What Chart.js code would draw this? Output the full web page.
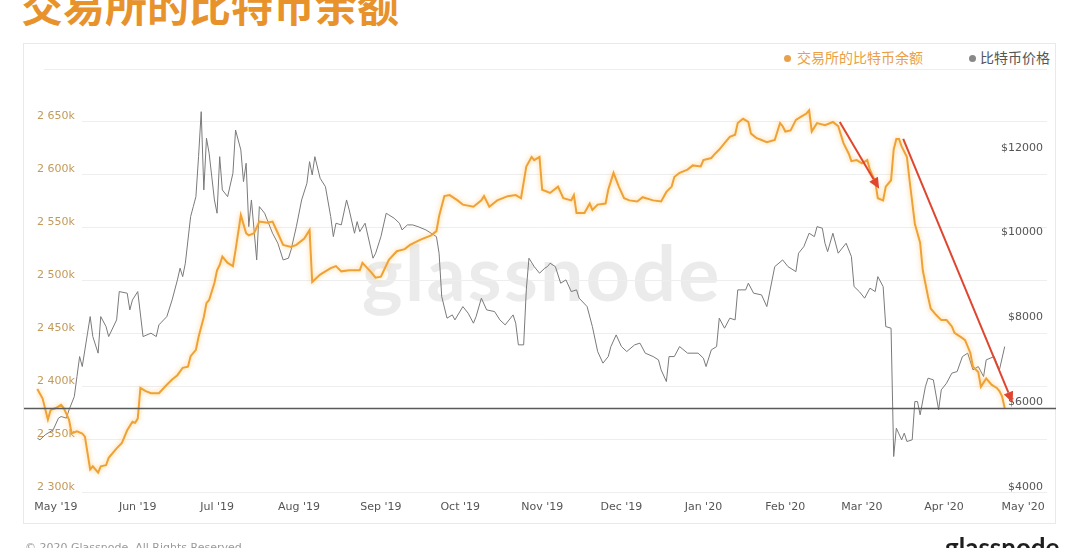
<!DOCTYPE html>
<html>
<head>
<meta charset="utf-8">
<script src="https://cdn.jsdelivr.net/npm/chart.js@4.4.0/dist/chart.umd.min.js"></script>
<style>
html,body{margin:0;padding:0;background:#fff;width:1080px;height:548px;overflow:hidden;position:relative;font-family:"DejaVu Sans",sans-serif}
#title{position:absolute;left:21px;top:-21px;font-weight:700;font-size:42px;font-family:"Noto Sans CJK SC",sans-serif;color:#e8922c;white-space:nowrap;line-height:50px}
#panel{position:absolute;left:23px;top:43px;width:1033px;height:481px;border:1px solid #e9e9e9;box-sizing:border-box}
#wm{position:absolute;left:362px;top:221px;font-family:Lato,sans-serif;font-weight:700;font-size:77px;letter-spacing:2.3px;color:#ebebeb;line-height:100px;white-space:nowrap}
#legend{position:absolute;top:47px;left:784px;font-family:"Noto Sans CJK SC",sans-serif;font-size:14px;line-height:20px;white-space:nowrap}
#legend span.item{display:inline-block;margin-right:46px}
#legend span.item:last-child{margin-right:0}
#legend span.dot{display:inline-block;width:7px;height:7px;border-radius:50%;margin-right:4px;vertical-align:1px}
canvas{position:absolute;left:0;top:0}
#footer{position:absolute;left:25px;top:541px;font-size:11px;color:#9a9a9a;white-space:nowrap}
#logo{position:absolute;left:945px;top:532px;font-family:Lato,sans-serif;font-weight:700;font-size:26px;color:#1e1e1e;white-space:nowrap;line-height:30px}
</style>
</head>
<body>
<div id="title">交易所的比特币余额</div>
<div id="panel"></div>
<div id="wm">glassnode</div>
<div id="legend"></div>
<canvas id="c" width="1080" height="548"></canvas>
<div id="footer">© 2020 Glassnode. All Rights Reserved.</div>
<div id="logo">glassnode</div>
<script>
// ---- data (days counted from 1 May 2019) ----
const seriesNames = ['交易所的比特币余额', '比特币价格'];
const seriesColors = ['#eea236', '#7a7a7a'];

const monthLabels = ["May '19","Jun '19","Jul '19","Aug '19","Sep '19","Oct '19","Nov '19","Dec '19","Jan '20","Feb '20","Mar '20","Apr '20","May '20"];
const monthDays = [0,31,61,92,123,153,184,214,245,276,305,336,366];

const leftTickValues = [2300,2350,2400,2450,2500,2550,2600,2650,2700];
const leftTickLabels = ['2 300k','2 350k','2 400k','2 450k','2 500k','2 550k','2 600k','2 650k',''];
const rightTickValues = [4000,6000,8000,10000,12000,14000];
const rightTickLabels = ['$4000','$6000','$8000','$10000','$12000',''];

// exchange balance (thousand BTC)
const balDays = [-7,-5,-3,-2,0,2,3,5,6,8,10,11,13,14,16,17,19,20,23,25,27,29,30,31,32,34,36,39,42,44,46,48,50,51,53,54,56,57,58,60,61,62,63,65,67,68,70,72,73,75,77,80,82,84,86,89,91,94,96,97,100,104,106,108,111,113,115,116,119,121,123,126,129,132,134,138,142,144,145,147,149,152,154,158,161,162,164,167,171,174,176,178,180,181,183,184,187,190,192,195,196,197,200,202,203,205,208,209,211,213,215,217,220,222,226,229,231,233,234,236,239,241,244,245,248,249,251,253,255,257,258,260,262,263,265,267,269,272,274,275,276,278,280,282,284,285,286,288,291,294,296,298,300,301,303,305,307,308,310,311,313,314,316,317,318,319,320,322,323,325,327,328,330,331,333,335,337,339,340,343,344,346,347,349,350,352,354,356,357,358,359];
const balValues = [2398,2389,2369,2378,2380,2383,2380,2369,2356,2358,2356,2353,2322,2325,2319,2325,2326,2333,2342,2347,2359,2367,2366,2370,2399,2396,2394,2394,2402,2407,2411,2418,2419,2429,2435,2447,2466,2479,2482,2498,2510,2515,2523,2517,2514,2529,2562,2545,2543,2545,2556,2555,2556,2545,2534,2532,2534,2540,2548,2499,2506,2512,2514,2509,2510,2510,2510,2517,2509,2503,2504,2520,2528,2530,2534,2539,2543,2547,2561,2580,2581,2576,2572,2570,2576,2580,2570,2576,2580,2581,2578,2608,2617,2614,2617,2586,2583,2589,2578,2576,2581,2564,2564,2573,2567,2572,2573,2586,2602,2589,2578,2576,2575,2579,2576,2575,2584,2589,2598,2602,2605,2609,2608,2614,2616,2619,2624,2630,2636,2638,2649,2653,2650,2639,2635,2633,2631,2633,2649,2646,2641,2642,2652,2655,2658,2661,2641,2649,2647,2650,2646,2630,2620,2613,2614,2611,2614,2605,2594,2578,2576,2589,2595,2624,2634,2634,2627,2617,2595,2554,2536,2510,2485,2474,2468,2463,2463,2457,2451,2446,2444,2432,2419,2414,2400,2408,2402,2399,2396,2391,2380];

// bitcoin price (USD)
const priceDays = [-7,-6,-4,-1,1,2,4,5,7,8,9,10,12,13,14,16,17,19,20,23,24,27,28,29,31,33,36,38,39,42,44,46,47,48,49,51,52,53,54,55,56,57,58,60,61,62,63,65,67,68,70,71,72,73,74,76,77,79,80,82,84,86,88,89,91,93,95,96,97,98,100,102,104,105,106,108,110,111,113,114,115,117,120,121,123,125,126,128,130,131,133,135,137,140,142,144,145,146,148,150,151,154,156,158,159,161,163,166,168,170,173,174,175,177,178,179,181,183,185,186,187,189,191,193,195,197,198,201,203,205,207,209,210,212,214,216,219,221,223,226,228,229,231,232,234,236,239,243,245,246,248,250,251,253,255,257,258,261,262,264,267,269,272,275,277,280,281,283,285,287,288,290,291,292,294,296,299,301,302,304,306,308,310,311,313,314,316,317,318,320,321,322,324,325,326,327,329,330,332,334,335,337,339,341,343,345,347,349,351,352,355,357,359];
const priceValues = [5290,5250,5368,5486,5762,5800,5762,5958,6271,6743,7215,6979,7767,8158,7686,7295,8158,7922,7686,8080,8748,8710,8316,8552,8748,7686,7767,7686,7962,8158,8552,9024,9300,9101,9417,10517,10752,10988,11932,12993,11146,12366,12012,10910,10597,11932,11146,10988,11540,12561,12090,11342,11776,10281,10910,9495,10752,10597,10439,10125,9889,9495,9535,9731,10281,10910,11304,11814,11500,11932,11422,11224,10517,10045,10361,10321,10910,10675,10125,10399,10163,10361,9535,9653,10045,10597,10557,10479,10361,10203,10321,10321,10281,10203,10125,10045,9653,8630,8120,8198,8080,8394,8238,8002,8158,8592,8316,8276,8080,7962,8198,8002,7491,7491,8788,9535,9337,9182,9300,9337,9417,9337,8946,9024,8748,8788,8592,8394,7922,7333,7059,7215,7450,7726,7450,7333,7491,7531,7295,7215,7137,6901,6625,7215,7215,7450,7295,7295,7177,6979,7373,7450,8120,7884,8120,8080,8788,8788,8946,8710,8670,8394,9337,9495,9337,9219,9653,9809,10125,10045,10281,10243,9889,9691,10125,9653,9889,9573,8866,8748,8592,8828,8748,9101,8866,7922,7884,4856,5526,5250,5408,5210,5250,6153,6153,5840,6507,6705,6665,5958,6429,6587,6823,6861,7215,7295,6901,6979,6743,7137,7215,6901,7450];

// annotations (in data units: day, thousand BTC)
const arrowStarts = [[296.6, 2650], [320.6, 2634]];
const arrowEnds = [[311.5, 2587], [362, 2385]];
const priceRefLevel = 6000;

// ---- legend ----
const legend = document.getElementById('legend');
seriesNames.forEach((n, i) => {
  const it = document.createElement('span');
  it.className = 'item';
  const d = document.createElement('span');
  d.className = 'dot';
  d.style.background = i === 0 ? '#e9a04a' : '#888';
  if (i === 0) d.style.marginRight = '6px';
  const t = document.createElement('span');
  t.textContent = n;
  t.style.color = i === 0 ? '#e9a045' : '#555';
  it.appendChild(d); it.appendChild(t);
  legend.appendChild(it);
});

const glow = {
  id: 'glow',
  beforeDatasetDraw(chart, args) {
    if (args.index === 0) {
      const ctx = chart.ctx; ctx.save();
      ctx.shadowColor = 'rgba(255,185,80,0.75)';
      ctx.shadowBlur = 5;
    }
  },
  afterDatasetDraw(chart, args) {
    if (args.index === 0) chart.ctx.restore();
  }
};

const annot = {
  id: 'annot',
  afterDatasetsDraw(chart) {
    const ctx = chart.ctx, x = chart.scales.x, y = chart.scales.y, y1 = chart.scales.y1;
    const ca = chart.chartArea;
    ctx.save();
    const ly = Math.round(y1.getPixelForValue(priceRefLevel)) + 0.5;
    ctx.strokeStyle = '#5a5a5a'; ctx.lineWidth = 1.6;
    ctx.beginPath(); ctx.moveTo(ca.left - 12, ly); ctx.lineTo(ca.right + 9, ly); ctx.stroke();
    ctx.strokeStyle = '#e0452f'; ctx.fillStyle = '#e0452f'; ctx.lineWidth = 2;
    arrowStarts.forEach((s, i) => {
      const e = arrowEnds[i];
      const x0 = x.getPixelForValue(s[0]), y0 = y.getPixelForValue(s[1]);
      const x1 = x.getPixelForValue(e[0]), y1p = y.getPixelForValue(e[1]);
      const ang = Math.atan2(y1p - y0, x1 - x0);
      const hl = 11, hw = 5;
      const bx = x1 - hl * Math.cos(ang), by = y1p - hl * Math.sin(ang);
      ctx.beginPath(); ctx.moveTo(x0, y0); ctx.lineTo(bx, by); ctx.stroke();
      ctx.beginPath();
      ctx.moveTo(x1, y1p);
      ctx.lineTo(bx + hw * Math.sin(ang), by - hw * Math.cos(ang));
      ctx.lineTo(bx - hw * Math.sin(ang), by + hw * Math.cos(ang));
      ctx.closePath(); ctx.fill();
    });
    ctx.restore();
  }
};

new Chart(document.getElementById('c'), {
  type: 'line',
  data: {
    datasets: [
      {
        label: seriesNames[0],
        data: balDays.map((d, i) => ({x: d, y: balValues[i]})),
        yAxisID: 'y',
        borderColor: seriesColors[0],
        borderWidth: 2,
        pointRadius: 0,
        tension: 0,
        order: 0
      },
      {
        label: seriesNames[1],
        data: priceDays.map((d, i) => ({x: d, y: priceValues[i]})),
        yAxisID: 'y1',
        borderColor: seriesColors[1],
        borderWidth: 1,
        pointRadius: 0,
        tension: 0,
        order: 1
      }
    ]
  },
  options: {
    responsive: false,
    animation: false,
    devicePixelRatio: 1,
    layout: {padding: {left: 34, right: 33, top: 69, bottom: 26}},
    plugins: {legend: {display: false}, tooltip: {enabled: false}},
    scales: {
      x: {
        type: 'linear', min: -7.5, max: 375,
        grid: {display: false, drawTicks: false}, border: {display: false},
        afterBuildTicks: s => { s.ticks = monthDays.map(v => ({value: v})); },
        ticks: {
          autoSkip: false, maxRotation: 0, padding: 8, color: '#555',
          font: {family: 'DejaVu Sans', size: 11},
          callback: (v, i) => monthLabels[i]
        }
      },
      y: {
        position: 'left', min: 2300, max: 2700,
        border: {display: false},
        grid: {color: '#eeeeee', drawTicks: false, lineWidth: 1},
        afterBuildTicks: s => { s.ticks = leftTickValues.map(v => ({value: v})); },
        ticks: {
          mirror: true, padding: 1, labelOffset: -6, color: '#c39a5a',
          font: {family: 'DejaVu Sans', size: 11},
          showLabelBackdrop: true, backdropColor: '#ffffff',
          backdropPadding: {top: 0, bottom: 1, left: 1, right: 7},
          callback: (v, i) => leftTickLabels[i]
        }
      },
      y1: {
        position: 'right', min: 4000, max: 14000,
        border: {display: false},
        grid: {display: false, drawTicks: false},
        afterBuildTicks: s => { s.ticks = rightTickValues.map(v => ({value: v})); },
        afterFit: s => { s.width = 0; },
        ticks: {
          mirror: true, padding: -4, labelOffset: -6, color: '#555',
          font: {family: 'DejaVu Sans', size: 11},
          callback: (v, i) => rightTickLabels[i]
        }
      }
    }
  },
  plugins: [glow, annot]
});
</script>
</body>
</html>
